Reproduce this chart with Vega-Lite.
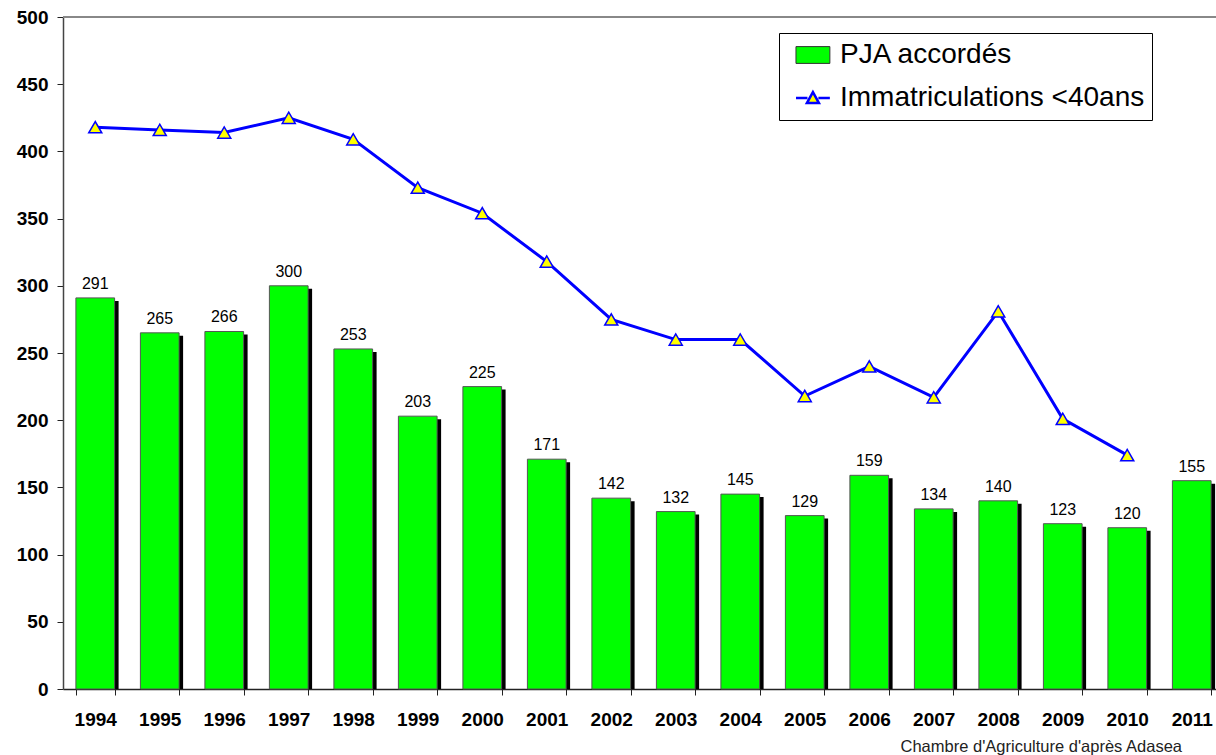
{
  "$schema": "https://vega.github.io/schema/vega-lite/v6.json",
  "autosize": {"type": "none"},
  "padding": {"left": 63, "top": 17, "right": 0, "bottom": 66},
  "width": 1153,
  "height": 672,
  "background": "white",
  "config": {
    "font": "Liberation Sans",
    "view": {"fill": "#FBEBD3", "stroke": null},
    "axis": {"title": null, "grid": false}
  },
  "title": {
    "text": "Chambre d'Agriculture d'après Adasea",
    "orient": "bottom",
    "anchor": "end",
    "fontSize": 16.5,
    "fontWeight": "normal",
    "color": "#222222",
    "offset": 10,
    "dx": -42
  },
  "data": {
    "values": [
      {"annee": "1994", "pja": 291, "immat": 418},
      {"annee": "1995", "pja": 265, "immat": 416},
      {"annee": "1996", "pja": 266, "immat": 414},
      {"annee": "1997", "pja": 300, "immat": 425},
      {"annee": "1998", "pja": 253, "immat": 409},
      {"annee": "1999", "pja": 203, "immat": 373},
      {"annee": "2000", "pja": 225, "immat": 354},
      {"annee": "2001", "pja": 171, "immat": 318},
      {"annee": "2002", "pja": 142, "immat": 275},
      {"annee": "2003", "pja": 132, "immat": 260},
      {"annee": "2004", "pja": 145, "immat": 260},
      {"annee": "2005", "pja": 129, "immat": 218},
      {"annee": "2006", "pja": 159, "immat": 240},
      {"annee": "2007", "pja": 134, "immat": 217},
      {"annee": "2008", "pja": 140, "immat": 281},
      {"annee": "2009", "pja": 123, "immat": 201},
      {"annee": "2010", "pja": 120, "immat": 174},
      {"annee": "2011", "pja": 155, "immat": null}
    ]
  },
  "layer": [
    {
      "mark": {"type": "rule", "color": "#888888", "strokeWidth": 1.5},
      "encoding": {"y": {"datum": 500, "type": "quantitative", "scale": {"domain": [0, 500], "nice": false}}}
    },
    {
      "mark": {"type": "bar", "fill": "black", "xOffset": 4, "yOffset": 3, "clip": true},
      "encoding": {
        "x": {
          "field": "annee",
          "type": "ordinal",
          "scale": {"type": "band", "range": [0, 1161], "paddingInner": 0.4, "paddingOuter": 0.2},
          "axis": {
            "title": null,
            "labelAngle": 0,
            "labelFontSize": 19,
            "labelFontWeight": "bold",
            "labelColor": "black",
            "labelPadding": 15,
            "tickBand": "extent",
            "tickSize": 6,
            "tickColor": "#222222",
            "domainColor": "#222222",
            "domainWidth": 1.5
          }
        },
        "y": {
          "field": "pja",
          "type": "quantitative",
          "scale": {"domain": [0, 500], "nice": false},
          "axis": {
            "title": null,
            "values": [0, 50, 100, 150, 200, 250, 300, 350, 400, 450, 500],
            "labelFontSize": 19,
            "labelFontWeight": "bold",
            "labelColor": "black",
            "labelPadding": 9,
            "tickSize": 6,
            "tickColor": "#222222",
            "domainColor": "#444444",
            "domainWidth": 1.5
          }
        }
      }
    },
    {
      "mark": {"type": "bar", "fill": "#00FF00", "stroke": "#555555", "strokeWidth": 1},
      "encoding": {
        "x": {"field": "annee", "type": "ordinal"},
        "y": {"field": "pja", "type": "quantitative"}
      }
    },
    {
      "mark": {"type": "text", "baseline": "bottom", "dy": -6, "fontSize": 16, "color": "black"},
      "encoding": {
        "x": {"field": "annee", "type": "ordinal"},
        "y": {"field": "pja", "type": "quantitative"},
        "text": {"field": "pja", "type": "quantitative"}
      }
    },
    {
      "mark": {"type": "line", "color": "#0000FF", "strokeWidth": 3},
      "encoding": {
        "x": {"field": "annee", "type": "ordinal"},
        "y": {"field": "immat", "type": "quantitative"}
      }
    },
    {
      "mark": {"type": "point", "shape": "triangle-up", "filled": true, "fill": "#FFFF00", "stroke": "#0000FF", "strokeWidth": 1.5, "size": 170, "opacity": 1},
      "encoding": {
        "x": {"field": "annee", "type": "ordinal"},
        "y": {"field": "immat", "type": "quantitative"}
      }
    },
    {
      "transform": [{"filter": "false"}],
      "mark": {"type": "point", "filled": true, "opacity": 1},
      "encoding": {
        "fill": {
          "datum": "PJA accordés",
          "type": "nominal",
          "scale": {"domain": ["PJA accordés", "Immatriculations <40ans"], "range": ["#00FF00", "#FFFF00"]},
          "legend": {
            "title": null,
            "orient": "none",
            "legendX": 716,
            "legendY": 16,
            "fillColor": "white",
            "strokeColor": "black",
            "padding": 7.5,
            "rowPadding": 13,
            "symbolSize": 784,
            "symbolOpacity": 1,
            "labelFontSize": 28,
            "labelColor": "black",
            "labelOffset": 22.5,
            "labelLimit": 500
          }
        },
        "stroke": {
          "datum": "PJA accordés",
          "type": "nominal",
          "scale": {"domain": ["PJA accordés", "Immatriculations <40ans"], "range": ["#333333", "#0000FF"]},
          "legend": {"title": null}
        },
        "shape": {
          "datum": "PJA accordés",
          "type": "nominal",
          "scale": {"domain": ["PJA accordés", "Immatriculations <40ans"], "range": ["M-0.43,-0.6H1.99V0.6H-0.43Z", "M-0.43,0H0.39M1.17,0H1.99M0.78,-0.42L1.21,0.36H0.35Z"]},
          "legend": {"title": null}
        },
        "strokeWidth": {
          "datum": "PJA accordés",
          "type": "ordinal",
          "scale": {"domain": ["PJA accordés", "Immatriculations <40ans"], "range": [1, 2.5]},
          "legend": {"title": null}
        }
      }
    }
  ]
}
